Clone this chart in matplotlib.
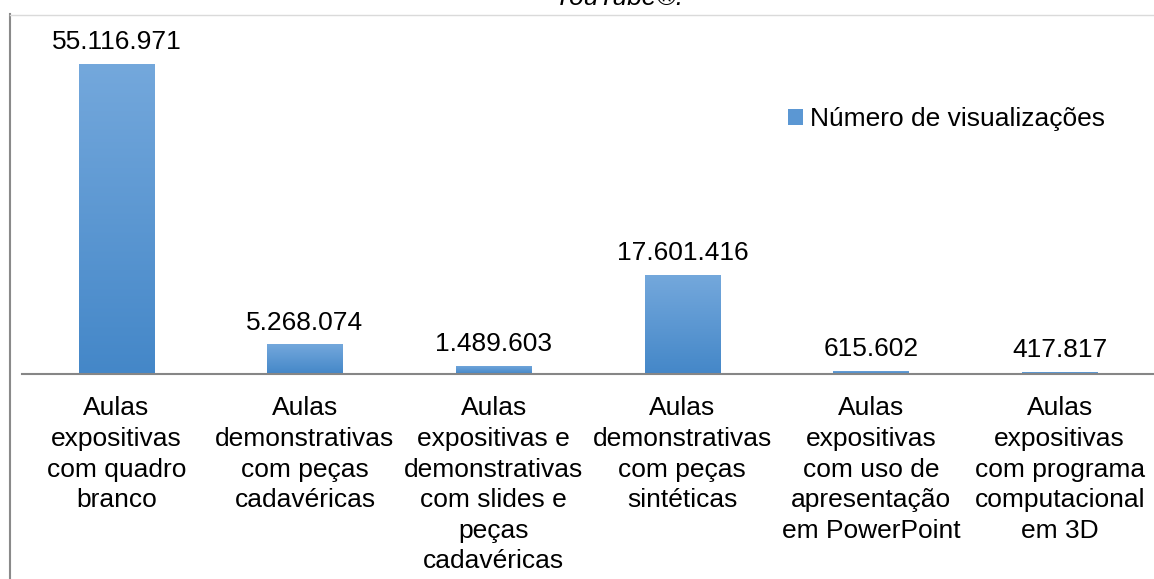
import matplotlib
matplotlib.use("Agg")
import matplotlib.pyplot as plt
import numpy as np
from matplotlib.colors import LinearSegmentedColormap
from matplotlib.lines import Line2D
from matplotlib.patches import Patch

plt.rcParams['font.family'] = ['Liberation Sans', 'DejaVu Sans']

categorias = [
    "Aulas\nexpositivas\ncom quadro\nbranco",
    "Aulas\ndemonstrativas\ncom peças\ncadavéricas",
    "Aulas\nexpositivas e\ndemonstrativas\ncom slides e\npeças\ncadavéricas",
    "Aulas\ndemonstrativas\ncom peças\nsintéticas",
    "Aulas\nexpositivas\ncom uso de\napresentação\nem PowerPoint",
    "Aulas\nexpositivas\ncom programa\ncomputacional\nem 3D",
]
visualizacoes = [55116971, 5268074, 1489603, 17601416, 615602, 417817]
serie = "Número de visualizações"

W, H = 1154, 579
fig = plt.figure(figsize=(W / 100, H / 100), dpi=100)
ax = fig.add_axes([22 / W, 1 - 374 / H, 1132 / W, (374 - 15) / H])

ind = np.arange(len(categorias))
width = 0.4
bars = ax.bar(ind, visualizacoes, width, color='#5b97d3', zorder=1)

# vertical gradient inside each bar, darker at the base
cmap = LinearSegmentedColormap.from_list('azul', ['#4487c8', '#74a8dc'])
grad = np.linspace(0, 1, 256).reshape(-1, 1)
for b in bars:
    x0, y0 = b.get_x(), b.get_y()
    im = ax.imshow(grad, extent=[x0, x0 + b.get_width(), y0, y0 + b.get_height()],
                   aspect='auto', cmap=cmap, origin='lower', zorder=2)
    im.set_clip_path(b)

for i, v in enumerate(visualizacoes):
    ax.annotate(f"{v:,}".replace(',', '.'), (ind[i], v), xytext=(0, 7),
                textcoords='offset points', ha='center', va='bottom', fontsize=19)

ax.set_xlim(-0.5, len(categorias) - 0.5)
ax.set_ylim(0, max(visualizacoes) * 359 / 310)
ax.set_xticks(ind)
ax.set_xticklabels(categorias, fontsize=19, linespacing=1.35)
ax.tick_params(axis='x', length=0, pad=16)
ax.set_yticks([])
for s in ['top', 'left', 'right']:
    ax.spines[s].set_visible(False)
ax.spines['bottom'].set_color('#868686')
ax.spines['bottom'].set_linewidth(1.5)
ax.spines['bottom'].set_zorder(3)

fig.legend(handles=[Patch(facecolor='#5b97d3', label=serie)], loc='center left',
           bbox_to_anchor=(788 / W, 1 - 119 / H), frameon=False, fontsize=19,
           handlelength=0.57, handleheight=0.57, handletextpad=0.25,
           borderpad=0, borderaxespad=0)

# frame lines around the chart area
fig.add_artist(Line2D([9.5 / W, 9.5 / W], [0, 1 - 14 / H], color='#8a8a8a', lw=1.5))
fig.add_artist(Line2D([9.5 / W, 1], [1 - 15 / H, 1 - 15 / H], color='#dadada', lw=1.0))

fig.text(618 / W, 1 - 5 / H, "YouTube®.", ha='center', va='baseline',
         fontsize=19, style='italic')

fig.savefig('out.png', dpi=100)
